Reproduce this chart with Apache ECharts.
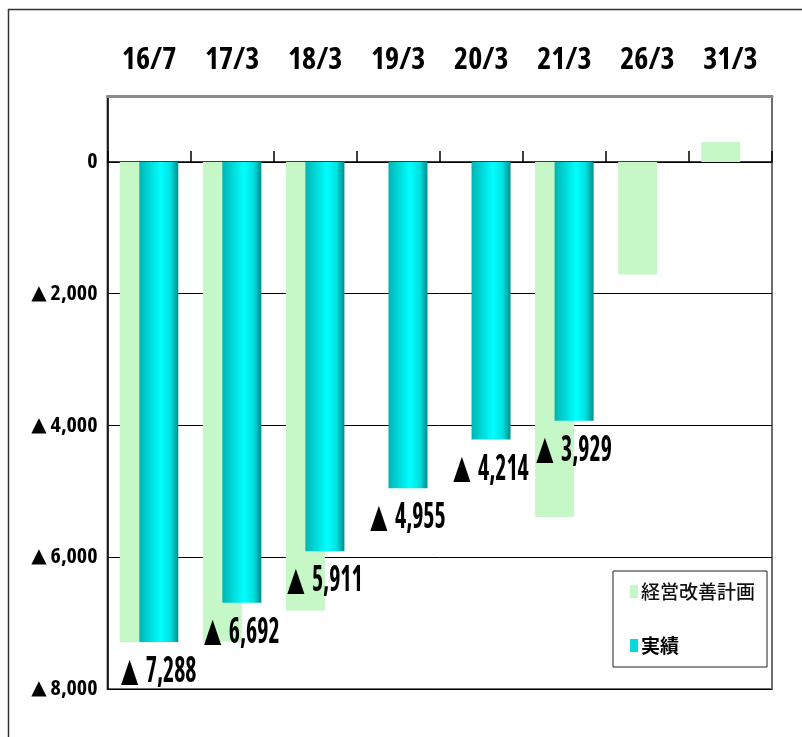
<!DOCTYPE html>
<html>
<head>
<meta charset="utf-8">
<script src="https://cdn.jsdelivr.net/npm/echarts@6/dist/echarts.min.js"></script>
<style>
  html, body { margin: 0; padding: 0; background: #fff; }
  #chart { width: 802px; height: 737px; }
</style>
</head>
<body>
<div id="chart"></div>
<script>
// Fiscal periods (year/month)
const categories = ['16/7', '17/3', '18/3', '19/3', '20/3', '21/3', '26/3', '31/3'];
// Management improvement plan (negative = deficit)
const planValues = [-7290, -7280, -6810, null, null, -5390, -1710, 300];
// Actual results
const actualValues = [-7288, -6692, -5911, -4955, -4214, -3929, null, null];
// Value axis range and step
const yMin = -8000;
const yMax = 1000;
const yStep = 2000;

const seriesNames = ['経営改善計画', '実績'];

const CJK = "'Noto Sans CJK JP', 'Noto Sans CJK SC', sans-serif";
const NUM_FAMILY = "'Open Sans', 'Liberation Sans', sans-serif";
const NUM_WEIGHT = 'bold condensed';
const TRI_FAMILY = "'DejaVu Sans', sans-serif";
const BAR_W = 39;

// Deficits are written with a leading ▲ instead of a minus sign (rich-text form)
function triRich(v) {
  if (v === 0) return '{n|0}';
  if (v < 0) return '{t|▲}{n|' + Math.abs(v).toLocaleString('en-US') + '}';
  return '';
}

const cyanGradient = new echarts.graphic.LinearGradient(0, 0, 1, 0, [
  { offset: 0, color: '#00b4b4' },
  { offset: 0.55, color: '#00ffff' },
  { offset: 0.8, color: '#00e0e0' },
  { offset: 1, color: '#008c8c' }
]);

// Tall, narrow value labels under each result bar
function renderValueLabel(params, api) {
  const v = api.value(1);
  if (v == null || isNaN(v)) return null;
  const p = api.coord([api.value(0), v]);
  return {
    type: 'text',
    x: p[0] + BAR_W / 4,
    y: p[1] + 30,
    scaleX: 0.68,
    silent: true,
    style: {
      text: triRich(v),
      fill: '#000',
      align: 'center',
      verticalAlign: 'middle',
      rich: {
        t: { fontFamily: TRI_FAMILY, fontSize: 33, fill: '#000', verticalAlign: 'middle', height: 36, padding: [0, 11, 0, 0] },
        n: { fontFamily: NUM_FAMILY, fontWeight: NUM_WEIGHT, fontSize: 35, fill: '#000', verticalAlign: 'middle', height: 36 }
      }
    }
  };
}

const chart = echarts.init(document.getElementById('chart'), null, { renderer: 'canvas' });

chart.setOption({
  animation: false,
  backgroundColor: '#fff',
  graphic: [{
    type: 'polyline',
    shape: { points: [[8.5, 737], [8.5, 9.5], [802, 9.5]] },
    style: { stroke: '#333', lineWidth: 1.5, fill: null },
    silent: true
  }],
  grid: {
    left: 107.5, right: 30, top: 96, bottom: 48,
    containLabel: false,
    outerBoundsMode: 'none',
    show: true, borderColor: '#6e6e6e', borderWidth: 2, backgroundColor: 'transparent'
  },
  legend: {
    orient: 'vertical',
    left: 613, top: 571,
    padding: [11, 12, 12, 17],
    itemWidth: 8, itemHeight: 13, itemGap: 35,
    backgroundColor: '#fff',
    borderColor: '#222', borderWidth: 1,
    icon: 'rect',
    data: [
      { name: seriesNames[0], itemStyle: { color: '#c6f7c6' } },
      { name: seriesNames[1], itemStyle: { color: '#00dcdc' } }
    ],
    formatter: function (name) {
      return name === seriesNames[1] ? '{b|' + name + '}' : '{n|' + name + '}';
    },
    textStyle: {
      padding: [0, 0, 0, -2],
      rich: {
        n: { fontFamily: CJK, fontSize: 19, fontWeight: 500, color: '#111' },
        b: { fontFamily: CJK, fontSize: 19, fontWeight: 'bold', color: '#000' }
      }
    }
  },
  xAxis: [{
    type: 'category',
    data: categories,
    position: 'top',
    axisLine: { show: true, onZero: false, lineStyle: { color: '#8c8c8c', width: 3 } },
    axisTick: { show: false },
    axisLabel: {
      margin: 21,
      fontFamily: NUM_FAMILY, fontWeight: NUM_WEIGHT, fontSize: 30, color: '#000'
    },
    splitLine: { show: false }
  }, {
    type: 'category',
    data: categories,
    position: 'bottom',
    axisLine: { show: true, onZero: true, lineStyle: { color: '#000', width: 1.5 } },
    axisTick: { show: true, inside: true, length: 11, lineStyle: { color: '#000', width: 1.5 } },
    axisLabel: { show: false },
    splitLine: { show: false }
  }],
  yAxis: {
    type: 'value',
    min: yMin, max: yMax, interval: yStep,
    axisLine: { show: true, lineStyle: { color: '#000', width: 1.5 } },
    axisTick: { show: false },
    axisLabel: {
      margin: 10,
      formatter: triRich,
      rich: {
        t: { fontFamily: TRI_FAMILY, fontSize: 20, color: '#000', verticalAlign: 'middle', padding: [0, 4, 0, 0] },
        n: { fontFamily: NUM_FAMILY, fontWeight: NUM_WEIGHT, fontSize: 22, color: '#000', verticalAlign: 'middle' }
      }
    },
    splitLine: {
      show: true,
      lineStyle: { color: '#000', width: 1 }
    }
  },
  series: [{
    name: seriesNames[0],
    type: 'bar',
    xAxisIndex: 0,
    data: planValues,
    barWidth: BAR_W,
    barGap: '-50%',
    itemStyle: { color: '#c6f7c6' }
  }, {
    name: seriesNames[1],
    type: 'bar',
    xAxisIndex: 0,
    data: actualValues,
    barWidth: BAR_W,
    barGap: '-50%',
    itemStyle: { color: cyanGradient }
  }, {
    type: 'custom',
    xAxisIndex: 0,
    z: 5,
    silent: true,
    data: actualValues.map(function (v, i) { return [i, v]; }),
    encode: { x: 0, y: 1 },
    renderItem: renderValueLabel
  }]
});
</script>
</body>
</html>
